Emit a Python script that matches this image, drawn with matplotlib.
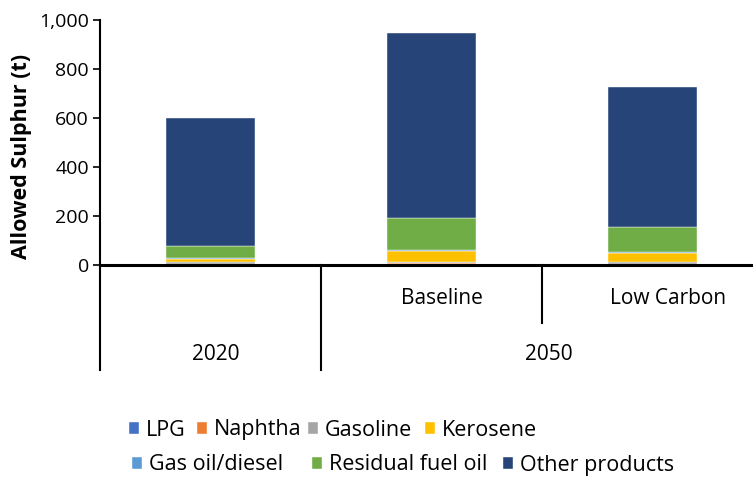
import matplotlib
matplotlib.use("Agg")
import matplotlib.pyplot as plt
import matplotlib.transforms as mtransforms
from matplotlib.ticker import FuncFormatter

# Allowed sulphur (t) by product
scenarios = ["2020", "Baseline", "Low Carbon"]
products = ["LPG", "Naphtha", "Gasoline", "Kerosene",
            "Gas oil/diesel", "Residual fuel oil", "Other products"]
lpg = [2, 4, 2]
naphtha = [1, 6, 1]
gasoline = [11, 1, 10]
kerosene = [11, 46, 34]
gas_oil = [4, 5, 8]
residual = [48, 130, 99]
other = [523, 755, 572]
colors = ["#4472C4", "#ED7D31", "#A5A5A5", "#FFC000",
          "#5B9BD5", "#70AD47", "#264478"]

plt.rcParams["font.family"] = ["Open Sans", "DejaVu Sans"]

fig = plt.figure(figsize=(7.53, 4.80), dpi=100)
ax = fig.add_axes([100 / 753, 1 - 265 / 480, 663 / 753, 245 / 480])

series = [lpg, naphtha, gasoline, kerosene, gas_oil, residual, other]
x = list(range(len(scenarios)))
bottom = [0] * len(scenarios)
handles = []
for vals, col, name in zip(series, colors, products):
    b = ax.bar(x, vals, width=0.4, bottom=bottom, color=col,
               edgecolor="white", linewidth=0.3, label=name, zorder=2)
    handles.append(b)
    bottom = [bt + v for bt, v in zip(bottom, vals)]

ax.set_xlim(-0.5, 2.5)
ax.set_ylim(0, 1000)
ax.set_yticks(range(0, 1001, 200))
ax.yaxis.set_major_formatter(FuncFormatter(lambda v, p: f"{int(v):,}"))
ax.tick_params(axis="y", direction="out", length=5, width=1.2,
               labelsize=14, pad=3)
ax.set_xticks([])
for s in ["top", "right"]:
    ax.spines[s].set_visible(False)
ax.spines["left"].set_linewidth(1.5)
ax.spines["bottom"].set_linewidth(2.2)
ax.spines["bottom"].set_zorder(3)
ax.set_ylabel("Allowed Sulphur (t)", fontsize=15.5, fontweight="bold")
ax.yaxis.set_label_coords(-0.103, 0.445)

# multi-level category axis
trans = mtransforms.blended_transform_factory(ax.transData, ax.transAxes)
for xpos, ybot in [(-0.5, -0.43), (0.5, -0.43), (1.5, -0.235)]:
    ax.plot([xpos, xpos], [0, ybot], color="black", lw=1.5,
            transform=trans, clip_on=False)
ax.text(1.045, -0.135, "Baseline", transform=trans, ha="center",
        va="center", fontsize=15)
ax.text(2.07, -0.135, "Low Carbon", transform=trans, ha="center",
        va="center", fontsize=15)
ax.text(0.025, -0.365, "2020", transform=trans, ha="center", va="center",
        fontsize=15)
ax.text(1.53, -0.365, "2050", transform=trans, ha="center", va="center",
        fontsize=15)

# legend, laid out in two rows like the original
leg_x = [129, 197, 308, 425, 132, 312, 503]
leg_y = [430, 430, 430, 430, 465, 465, 465]
for h, lab, lx, ly in zip(handles, products, leg_x, leg_y):
    fig.legend([h], [lab], loc="center left",
               bbox_to_anchor=(lx / 753, 1 - ly / 480), frameon=False,
               fontsize=15.5, handlelength=0.47, handleheight=0.45,
               handletextpad=0.3, borderpad=0, borderaxespad=0)

fig.savefig("out.png", dpi=100)
